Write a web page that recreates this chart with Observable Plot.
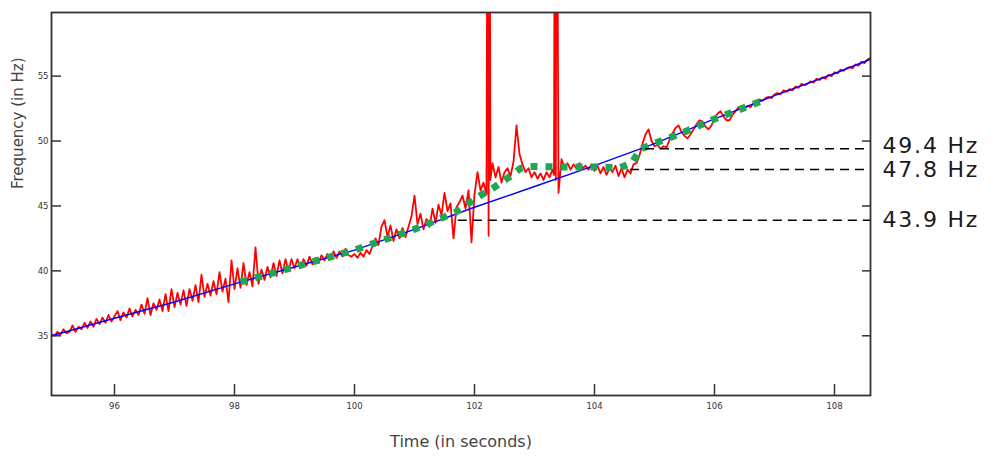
<!DOCTYPE html>
<html><head><meta charset="utf-8">
<script src="https://cdn.jsdelivr.net/npm/d3@7"></script>
<script src="https://cdn.jsdelivr.net/npm/@observablehq/plot@0.6"></script>
<style>body{margin:0;background:#fff;} #chart svg{display:block;}</style>
</head><body><div id="chart"></div>
<script>
const xTicks = [96, 98, 100, 102, 104, 106, 108];
const yTicks = [35, 40, 45, 50, 55];
const xDomain = [94.95, 108.6];
const yDomain = [30.4, 59.9];
const xLabel = "Time (in seconds)";
const yLabel = "Frequency (in Hz)";

// measured (noisy) frequency, red
const redTime = [
  94.95,95,95.05,95.1,95.15,95.2,95.25,95.3,95.35,95.4,95.45,95.5,95.55,95.6,95.65,95.7,95.75,95.8,95.85,95.9,95.95,
  96,96.05,96.1,96.15,96.2,96.25,96.3,96.35,96.4,96.45,96.5,96.55,96.6,96.65,96.7,96.75,96.8,96.85,96.9,96.95,
  97,97.05,97.1,97.15,97.2,97.25,97.3,97.35,97.4,97.45,97.5,97.55,97.6,97.65,97.7,97.75,97.8,97.85,97.9,97.95,
  98,98.05,98.1,98.15,98.2,98.25,98.3,98.35,98.4,98.45,98.5,98.55,98.6,98.65,98.7,98.75,98.8,98.85,98.9,98.95,
  99,99.05,99.1,99.15,99.2,99.25,99.3,99.35,99.4,99.45,99.5,99.55,99.6,99.65,99.7,99.75,99.8,99.85,99.9,99.95,
  100,100.05,100.1,100.15,100.2,100.25,100.3,100.35,100.4,100.45,100.5,100.55,100.6,100.65,100.7,100.75,100.8,100.85,100.9,100.95,
  101,101.05,101.1,101.15,101.2,101.25,101.3,101.35,101.4,101.45,101.5,101.55,101.6,101.65,101.7,101.75,101.8,101.85,101.9,101.95,
  102,102.05,102.1,102.15,102.2,102.22,102.235,102.25,102.265,102.3,102.35,102.4,102.45,102.5,102.55,102.6,102.65,102.7,102.75,102.8,102.85,102.9,102.95,
  103,103.05,103.1,103.15,103.2,103.25,103.3,103.325,103.34,103.355,103.37,103.4,103.45,103.5,103.55,103.6,103.65,103.7,103.75,103.8,103.85,103.9,103.95,
  104,104.05,104.1,104.15,104.2,104.25,104.3,104.35,104.4,104.45,104.5,104.55,104.6,104.65,104.7,104.75,104.8,104.85,104.9,104.95,
  105,105.05,105.1,105.15,105.2,105.25,105.3,105.35,105.4,105.45,105.5,105.55,105.6,105.65,105.7,105.75,105.8,105.85,105.9,105.95,
  106,106.05,106.1,106.15,106.2,106.25,106.3,106.35,106.4,106.45,106.5,106.55,106.6,106.65,106.7,106.75,106.8,106.85,106.9,106.95,
  107,107.05,107.1,107.15,107.2,107.25,107.3,107.35,107.4,107.45,107.5,107.55,107.6,107.65,107.7,107.75,107.8,107.85,107.9,107.95,
  108,108.05,108.1,108.15,108.2,108.25,108.3,108.35,108.4,108.45,108.5,108.55,108.6
];
const redFreq = [
  35.1,35.0,35.3,35.1,35.5,35.2,35.3,35.8,35.3,35.7,35.5,36.0,35.6,36.1,35.7,36.3,35.9,36.4,36.0,36.6,36.1,
  36.5,36.9,36.2,36.8,36.4,37.1,36.5,37.0,36.6,37.4,36.7,37.9,36.6,37.5,37.0,37.8,36.9,38.2,36.9,38.6,
  37.2,38.3,37.4,38.5,37.3,38.6,37.7,38.9,37.6,39.7,38.0,39.0,38.1,39.2,38.2,39.9,38.4,39.4,37.6,40.8,
  38.6,40.2,38.7,40.6,38.9,39.9,38.8,41.8,39.0,40.1,39.3,40.3,39.5,40.6,39.6,40.8,39.8,40.9,40.0,40.9,
  40.2,40.9,40.2,40.9,40.4,41.1,40.5,41.0,40.6,41.2,40.8,41.3,40.9,41.5,41.0,41.5,41.1,41.7,41.2,41.1,
  41.3,41.0,41.4,41.1,41.6,41.3,41.9,42.5,42.0,43.4,43.9,42.6,43.5,42.3,43.2,42.5,43.3,42.6,43.4,44.2,
  45.8,43.6,44.4,43.2,44.0,43.4,44.8,43.7,45.1,44.3,46.0,44.6,45.2,42.5,44.9,45.3,45.8,44.8,46.2,42.2,
  45.9,47.6,46.2,46.8,45.9,80,42.7,80,47.0,48.3,47.2,48.0,46.8,47.6,47.9,47.3,48.4,51.2,49.0,48.2,47.6,47.9,47.2,
  47.6,47.1,47.5,47.0,47.6,47.2,47.8,47.4,80,47.0,80,46.0,48.6,47.9,48.3,47.8,48.2,47.9,48.3,47.9,48.1,47.8,48.2,
  47.7,48.1,47.5,48.0,47.4,47.9,47.6,48.1,47.3,47.9,47.2,47.8,47.5,48.2,48.3,48.9,49.8,50.5,50.9,50.0,
  49.6,49.7,49.4,49.6,49.5,50.1,50.6,51.0,51.2,50.7,50.4,50.2,50.5,50.9,51.3,51.6,51.5,51.1,50.9,51.2,
  51.7,52.1,52.3,51.9,51.6,51.6,52.0,52.3,52.6,52.4,52.5,52.7,52.6,52.9,53.0,53.2,53.1,53.3,53.4,53.3,
  53.6,53.7,53.6,53.9,53.8,54.0,53.9,54.2,54.1,54.4,54.3,54.4,54.6,54.5,54.8,54.7,54.9,54.8,55.1,55.0,
  55.3,55.2,55.5,55.4,55.6,55.7,55.6,55.9,55.8,56.1,56.0,56.3,56.4
];

// sweep (expected) frequency, blue
const blueTime = [94.95, 96, 97, 98, 99, 100, 101, 102, 103, 104, 105, 106, 107, 108, 108.6];
const blueFreq = [35.0, 36.35, 37.6, 39.0, 40.3, 41.6, 43.2, 44.9, 46.5, 48.1, 49.8, 51.7, 53.5, 55.2, 56.3];

// tracked frequency, green dotted
const greenTime = [98.1, 99, 100, 101, 101.68, 101.93, 102.13, 102.35, 102.57, 102.77, 102.9, 103.5, 104, 104.43, 104.62, 104.77, 105.05, 105.5, 106, 106.8];
const greenFreq = [39.15, 40.3, 41.6, 43.2, 44.5, 45.3, 45.9, 46.5, 47.2, 47.9, 48.05, 48.0, 48.0, 47.95, 48.3, 49.4, 49.9, 50.7, 51.7, 53.1];

// annotated levels
const levelFreq = [49.4, 47.8, 43.9];
const levelStart = [104.85, 104.6, 101.73];
const levelShift = [-2.5, 0.5, 0];

const red = redTime.map((t, i) => ({t, f: redFreq[i]}));
const blue = blueTime.map((t, i) => ({t, f: blueFreq[i]}));
const green = greenTime.map((t, i) => ({t, f: greenFreq[i]}));
const levels = levelFreq.map((f, i) => ({f, start: levelStart[i], shift: levelShift[i]}));

const W = 992, H = 457, mL = 51, mR = 122, mT = 12, mB = 62;
const frameW = W - mL - mR, frameH = H - mT - mB;

const labelMarks = levels.map(d =>
  Plot.text([d], {y: "f", text: v => `${v.f} Hz`, frameAnchor: "right", textAnchor: "start", dx: 12, dy: d.shift, fontSize: 22, fill: "#1a1a1a"})
);

const plot = Plot.plot({
  width: W, height: H,
  marginLeft: mL, marginRight: mR, marginTop: mT, marginBottom: mB,
  style: {fontFamily: "'DejaVu Sans', Verdana, sans-serif", fontSize: "8.5px", color: "#333", background: "#fff", overflow: "visible"},
  x: {domain: xDomain},
  y: {domain: yDomain},
  marks: [
    Plot.line(red, {x: "t", y: "f", stroke: "#ff0000", strokeWidth: 1.8, clip: true}),
    Plot.line(blue, {x: "t", y: "f", stroke: "#0000ff", strokeWidth: 1.4}),
    Plot.line(green, {x: "t", y: "f", stroke: "#21a653", strokeWidth: 7, strokeDasharray: "7,8", strokeLinecap: "butt", strokeLinejoin: "miter"}),
    Plot.ruleY(levels, {y: "f", x1: "start", x2: () => xDomain[1], stroke: "#000", strokeWidth: 1.5, strokeDasharray: "9,6"}),
    ...labelMarks,
    Plot.tickX(xTicks, {x: d => d, stroke: "#333", strokeWidth: 1.5, insetTop: frameH - 11}),
    Plot.tickY(yTicks, {y: d => d, stroke: "#333", strokeWidth: 1.5, insetRight: frameW - 10}),
    Plot.tickY(yTicks, {y: d => d, stroke: "#333", strokeWidth: 1.5, insetLeft: frameW - 8}),
    Plot.axisX(xTicks, {tickSize: 0, tickPadding: 7, label: null, fill: "#333"}),
    Plot.axisY(yTicks, {tickSize: 0, tickPadding: 3, label: null, fill: "#333"}),
    Plot.frame({stroke: "#333", strokeWidth: 1.8}),
    Plot.text([xLabel], {frameAnchor: "bottom", dy: 51, fontSize: 16, fill: "#444"}),
    Plot.text([yLabel], {frameAnchor: "left", dx: -33, dy: -15, rotate: -90, fontSize: 15, fill: "#444"})
  ]
});

d3.select(plot).selectAll("text").filter(function() { return / Hz$/.test(this.textContent) && !/\(/.test(this.textContent); })
  .style("letter-spacing", "1.8px");
document.getElementById("chart").appendChild(plot);
</script>
</body></html>
